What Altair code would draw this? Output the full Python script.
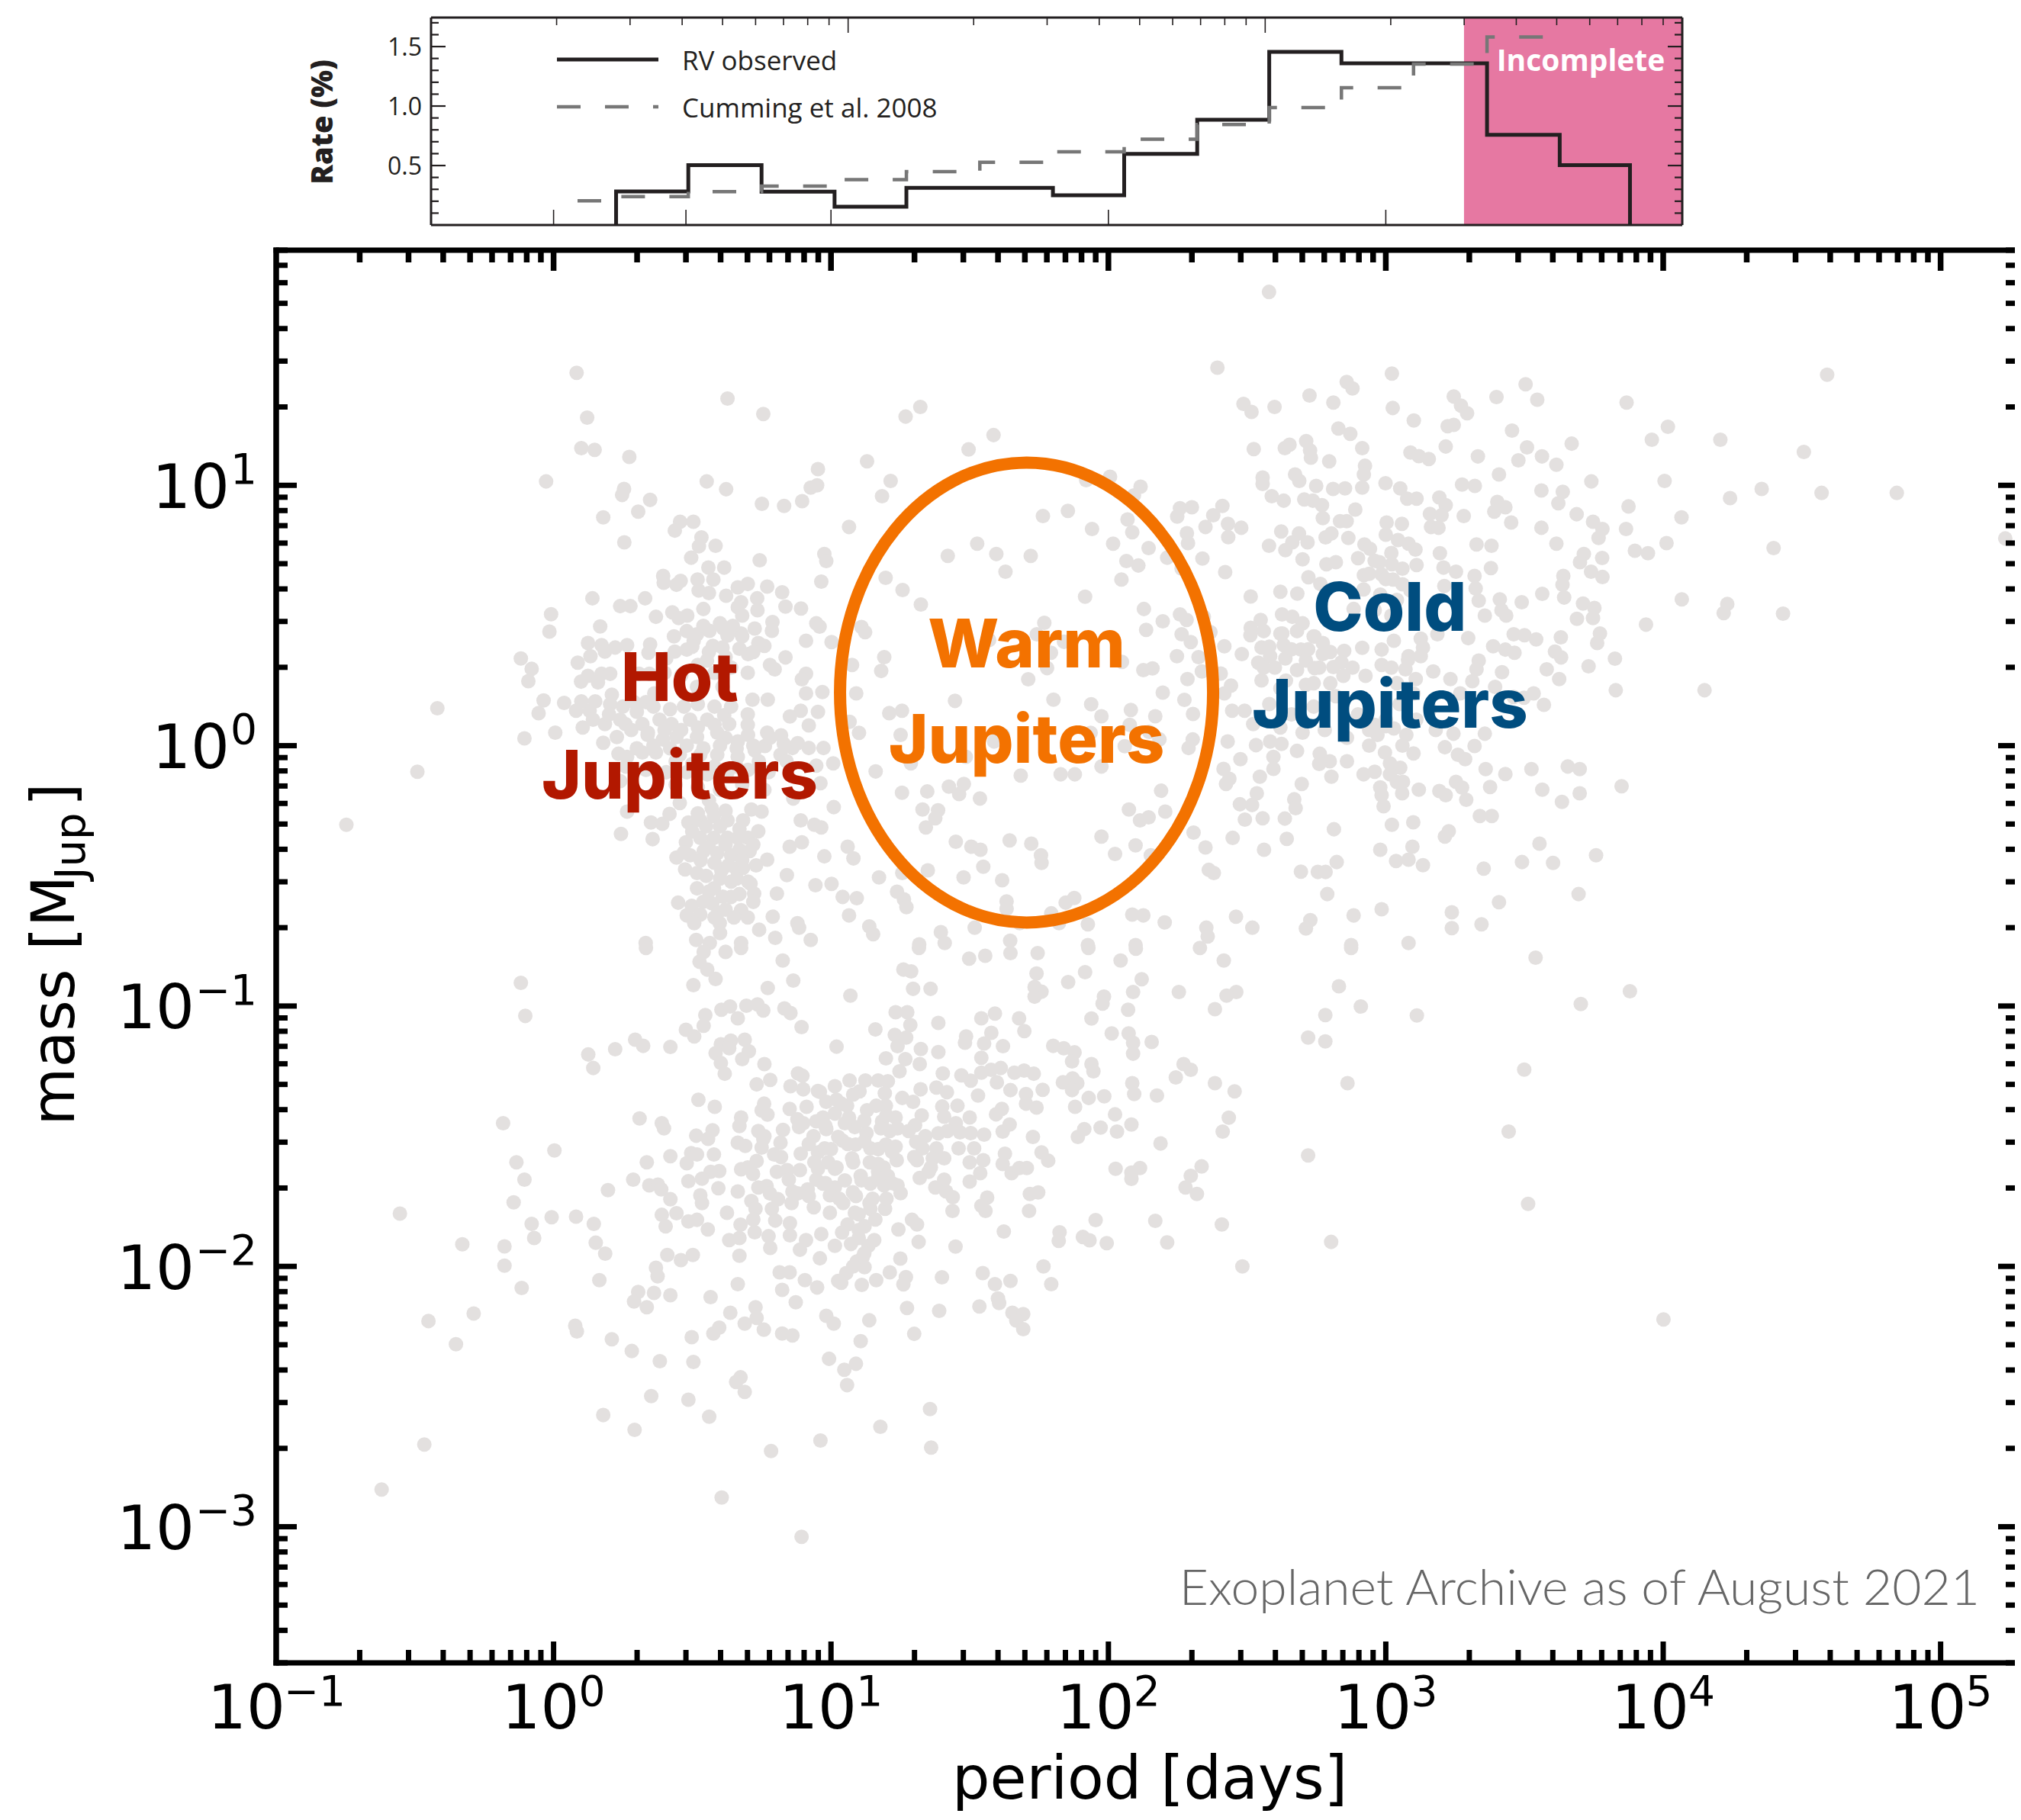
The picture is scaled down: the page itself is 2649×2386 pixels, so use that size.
import altair as alt
import pandas as pd

# ---- values: (log10 period [days], log10 mass [MJup]) ----
hot_region = [(.083,1.432),(.121,1.260),(.100,1.143),(.148,1.136),(.273,1.109),(.627,1.333),(.756,1.274),(-.027,1.015),(.552,1.015),(.622,.985),(.254,.986),(.247,.963),(.348,.944),(.305,.899),(.179,.877),(.255,.781),(.751,.929),(.831,.921),(.896,.939),(.927,.991),(.953,1.062),(.950,1.0),(.456,.860),(.504,.860),(.437,.826),(.533,.800),(.524,.766),(.584,.768),(.496,.722),(.743,.712),(.976,.736),(.983,.709),(.965,.630),(.558,.684),(.615,.684),(.395,.652),(.397,.626),(.443,.618),(.458,.633),(.519,.638),(.576,.638),(.523,.596),(.560,.586),(.622,.576),(.664,.608),(.700,.621),(.770,.611),(.824,.589),(.734,.566),(.676,.551),(.664,.532),(.735,.520),(.836,.534),(.892,.527),(.140,.566),(.240,.536),(.277,.536),(.330,.566),(-.009,.505),(-.015,.438),(.168,.458),(.369,.495),(.428,.512),(.451,.490),(.482,.500),(.540,.525),(.947,.470),(.959,.457),(.789,.475),(.725,.450),(.787,.441),(.562,.441),(.612,.450),(.646,.460),(.627,.423),(.676,.431),(.517,.428),(.434,.420),(.910,.403),(1.002,.398),(.124,.394),(.173,.386),(.222,.377),(.265,.386),(.348,.389),(.342,.357),(.133,.344),(.185,.361),(.437,.361),(.480,.369),(.505,.403),(.574,.383),(.609,.377),(.670,.372),(.701,.352),(.760,.383),(.738,.394),(.836,.339),(.797,.293),(-.118,.335),(-.079,.295),(-.091,.248),(.087,.319),(.099,.246),(.124,.268),(.173,.276),(.204,.276),(.160,.243),(.553,.327),(.406,.335),(.910,.276),(.895,.255),(.910,.201),(.969,.206),(.308,.276),(.345,.276),(.517,.226),(.609,.226),(.363,.201),(.210,.196),(.290,.167),(.333,.167),(.204,.159),(.717,.177),(.772,.177),(-.036,.174),(.038,.164),(-.054,.125),(.081,.134),(.130,.134),(.891,.134),(.852,.112),(.953,.130),(.920,.078),(-.419,.144),(.105,.070),(.142,.100),(.185,.083),(.240,.100),(.259,.083),(.320,.083),(.382,.100),(.425,.083),(.492,.100),(.554,.100),(.615,.117),(.633,.083),(.006,.050),(-.105,.028),(.179,.011),(.228,.033),(.339,.041),(.394,.024),(.443,.033),(.517,.033),(.590,.050),(.664,.016),(.701,.041),(.762,-.001),(.725,-.018),(.830,.007),(.861,-.009),(.920,-.009),(.973,-.009),(.234,-.031),(.265,-.043),(.320,-.026),(.369,-.026),(.455,-.035),(.529,-.035),(.590,-.035),(.664,-.043),(.818,-.035),(.240,-.136),(.947,-.077),(1.008,-.068),(.962,-.144),(.333,-.093),(.406,-.102),(.480,-.102),(.554,-.110),(.627,-.102),(.701,-.093),(.775,-.102),(.265,-.253),(.351,-.295),(.392,-.300),(.418,-.262),(.455,-.220),(.243,-.339),(.357,-.359),(.486,-.295),(.529,-.287),(.578,-.270),(.627,-.287),(.683,-.287),(.713,-.245),(.750,-.253),(.738,-.329),(.701,-.354),(.707,-.405),(.529,-.354),(.578,-.354),(.627,-.354),(.664,-.354),(.477,-.371),(.443,-.430),(.492,-.421),(.541,-.405),(.590,-.413),(.640,-.421),(.474,-.475),(.517,-.489),(.605,-.480),(.658,-.472),(.683,-.469),(.701,-.522),(.517,-.548),(.578,-.548),(.640,-.522),(.640,-.581),(.723,-.568),(.805,-.568),(.676,-.632),(.449,-.603),(.498,-.615),(.480,-.652),(.529,-.649),(.507,-.682),(.572,-.606),(.593,-.640),(.599,-.682),(.790,-.657),(.741,-.707),(.879,-.682),(.885,-.699),(.799,-.738),(.927,-.746),(.332,-.758),(.514,-.746),(.563,-.758),(.676,-.758),(.770,-.438),(.841,-.497),(.851,-.388),(.895,-.371),(.891,-.287),(.940,-.304),(.965,-.314),(.976,-.425),(.944,-.536),(1.002,-.531),(1.010,-.236),(.864,-.203),(-.747,-.304),(-.491,-.100)]

warm_region = [(1.322,1.301),(1.269,1.264),(1.586,1.193),(1.496,1.138),(1.130,1.092),(1.215,1.017),(1.184,.958),(1.065,.840),(2.006,1.033),(1.920,1.020),(2.116,.995),(2.092,.961),(1.764,.882),(1.854,.902),(1.941,.832),(2.069,.869),(2.086,.820),(1.527,.776),(1.421,.729),(1.596,.736),(1.720,.729),(1.629,.668),(2.017,.776),(2.145,.759),(2.065,.709),(2.108,.692),(2.047,.638),(1.197,.645),(1.258,.598),(1.324,.542),(2.212,.722),(2.264,.680),(2.339,.719),(2.421,.667),(1.916,.572),(1.769,.472),(2.128,.525),(2.196,.478),(2.258,.504),(2.282,.483),(2.136,.445),(2.264,.428),(2.297,.398),(2.344,.495),(2.368,.436),(1.110,.456),(1.123,.436),(1.742,.428),(1.570,.406),(1.840,.399),(2.418,.382),(1.192,.340),(1.181,.287),(1.076,.310),(1.793,.357),(1.779,.298),(1.711,.255),(2.049,.322),(2.126,.290),(2.159,.297),(2.247,.344),(2.325,.340),(2.337,.285),(2.405,.277),(2.285,.256),(2.442,.231),(2.196,.204),(2.418,.201),(2.274,.176),(1.091,.201),(1.447,.172),(1.802,.177),(1.210,.125),(1.256,.134),(1.067,.092),(1.101,.049),(1.938,.159),(1.975,.113),(2.081,.137),(2.077,.080),(2.169,.113),(2.305,.122),(2.446,.134),(2.491,.134),(2.522,.083),(1.251,.041),(1.619,.041),(1.588,.016),(1.936,.049),(2.147,.053),(2.059,-.002),(2.184,.024),(2.304,.024),(2.289,-.009),(2.430,.016),(2.532,.002),(2.583,.016),(2.624,.007),(1.486,-.043),(1.288,-.068),(1.161,-.099),(2.476,-.052),(2.415,-.089),(2.595,-.043),(2.595,-.089),(2.436,-.127),(2.424,-.147),(2.546,-.119),(1.684,-.115),(1.828,-.110),(1.879,-.110),(1.975,-.080),(2.762,-.031),(2.798,-.060),(2.804,-.119),(2.697,-.147),(1.256,-.181),(1.347,-.176),(1.425,-.157),(1.462,-.186),(1.479,-.147),(1.537,-.203),(2.190,-.173),(2.535,-.183),(2.074,-.245),(2.205,-.253),(2.114,-.287),(2.145,-.275),(1.330,-.245),(1.386,-.248),(1.376,-.279),(1.342,-.314),(2.474,-.225),(2.518,-.228),(2.670,-.206),(2.675,-.240),(2.492,-.284),(2.556,-.279),(2.636,-.280),(2.813,-.321),(2.448,-.354),(2.307,-.334),(2.350,-.391),(2.561,-.400),(2.643,-.358),(1.975,-.349),(1.450,-.369),(1.506,-.388),(1.539,-.400),(1.644,-.364),(1.722,-.376),(1.757,-.421),(1.759,-.450),(2.098,-.383),(2.024,-.416),(2.153,-.421),(1.060,-.388),(1.081,-.433),(1.549,-.465),(1.349,-.479),(1.478,-.506),(1.617,-.517),(1.173,-.506),(1.257,-.489),(2.362,-.477),(2.380,-.489),(2.694,-.484),(2.755,-.485),(2.783,-.485),(2.823,-.447),(2.789,-.570),(1.238,-.561),(1.263,-.590),(1.272,-.620),(1.093,-.586),(1.042,-.581),(1.633,-.598),(1.633,-.627),(1.846,-.603),(1.877,-.585),(1.794,-.644),(2.086,-.649),(2.126,-.652),(2.203,-.679),(2.460,-.657),(2.519,-.699),(2.353,-.699),(2.358,-.733),(2.728,-.670),(2.712,-.702),(2.884,-.652),(1.926,-.686),(1.680,-.682),(1.822,-.682),(1.065,-.652),(1.138,-.694),(1.152,-.724),(1.518,-.699),(1.396,-.716),(1.318,-.763),(1.410,-.758),(1.646,-.749),(1.926,-.766),(2.098,-.766),(2.875,-.766),(2.579,1.743),(2.393,1.452),(2.487,1.313),(2.516,1.282),(2.599,1.301),(2.725,1.345),(2.859,1.397),(2.880,1.372),(2.811,1.318),(2.524,1.139),(2.829,1.218),(2.872,1.198),(2.636,1.143),(2.653,1.156),(2.713,1.170),(2.727,1.134),(2.730,1.106),(2.796,1.092),(2.915,1.143),(2.925,1.075),(2.921,1.042),(2.556,1.030),(2.556,1.005),(2.673,1.042),(2.688,1.017),(2.749,.998),(2.589,.958),(2.632,.941),(2.810,.986),(2.853,.988),(2.915,.991),(2.706,.946),(2.737,.941),(2.770,.924),(2.773,.874),(2.890,.907),(2.411,.921),(2.378,.885),(2.350,.840),(2.258,.912),(2.301,.916),(2.248,.880),(2.431,.852),(2.479,.837),(2.432,.801),(2.283,.816),(2.287,.778),(2.623,.823),(2.687,.815),(2.718,.781),(2.663,.781),(2.579,.768),(2.638,.751),(2.700,.716),(2.783,.800),(2.804,.815),(2.835,.862),(2.859,.862),(2.865,.798),(2.923,.773),(2.786,.697),(2.820,.705),(2.721,.647),(2.764,.621),(2.921,.655),(2.943,.756),(2.513,.573),(2.620,.591),(2.681,.584),(2.626,.504),(2.663,.495),(2.700,.470),(2.884,.525),(2.549,.483),(2.513,.453),(2.512,.424),(2.627,.431),(2.743,.419),(2.773,.394),(2.915,.376),(2.850,.364),(2.773,.352),(2.481,.352),(2.552,.377),(2.632,.386),(2.694,.369),(2.540,.319),(2.583,.344),(2.638,.335),(2.712,.327),(2.743,.298),(2.811,.302),(2.847,.268),(2.927,.268),(2.552,.251),(2.712,.234),(2.62,.22),(2.58,.16),(2.66,.12),(2.74,.15),(2.82,.19),(2.90,.12),(2.96,.08),(2.62,.07),(2.70,.05),(2.78,.06),(2.86,.03),(2.94,.00),(2.68,-.02),(2.76,-.07),(2.86,-.06),(2.92,-.11),(2.98,-.16)]

cold_region = [(3.022,1.429),(3.025,1.297),(3.245,1.341),(3.271,1.306),(3.293,1.277),(3.399,1.339),(3.504,1.388),(3.546,1.329),(3.868,1.318),(4.591,1.425),(3.101,1.249),(3.223,1.227),(3.245,1.232),(4.017,1.225),(3.959,1.175),(4.206,1.175),(4.507,1.128),(3.455,1.210),(3.216,1.149),(3.089,1.126),(3.119,1.112),(3.155,1.101),(3.332,1.111),(3.509,1.146),(3.478,1.096),(3.563,1.111),(3.670,1.160),(3.615,1.079),(3.408,1.042),(2.999,1.008),(3.052,.988),(3.077,.949),(3.111,.949),(3.275,1.003),(3.321,.998),(3.741,1.015),(4.005,1.017),(4.355,.986),(4.241,.951),(4.571,.971),(4.842,.971),(3.561,.980),(3.638,.975),(3.622,.931),(3.193,.953),(3.216,.924),(3.159,.890),(3.201,.885),(3.281,.882),(3.402,.936),(3.431,.916),(3.391,.899),(3.163,.840),(3.190,.837),(3.452,.857),(3.561,.837),(3.688,.889),(3.875,.919),(4.066,.877),(3.747,.860),(3.781,.832),(3.866,.832),(3.767,.798),(3.003,.857),(3.058,.852),(3.000,.810),(3.044,.790),(3.082,.776),(3.107,.753),(3.195,.739),(3.327,.773),(3.381,.768),(3.615,.776),(4.012,.778),(4.398,.759),(3.898,.749),(3.945,.739),(5.233,.796),(3.714,.736),(3.700,.705),(3.780,.721),(3.740,.668),(3.781,.648),(3.640,.652),(3.637,.618),(3.643,.569),(3.564,.583),(3.490,.551),(3.379,.682),(3.320,.652),(3.324,.604),(3.335,.557),(3.357,.500),(3.111,.694),(3.208,.684),(3.253,.668),(2.977,.705),(3.022,.697),(2.985,.658),(3.026,.638),(3.211,.613),(3.089,.596),(3.411,.562),(3.434,.500),(3.417,.520),(4.067,.562),(4.231,.544),(4.218,.509),(4.432,.507),(3.711,.546),(3.752,.529),(3.689,.487),(3.747,.490),(3.938,.465),(3.772,.431),(3.762,.394),(3.826,.334),(3.731,.305),(3.829,.213),(4.149,.213),(3.631,.416),(3.461,.428),(3.500,.424),(3.542,.408),(3.297,.413),(3.387,.382),(3.431,.369),(3.464,.357),(3.610,.361),(3.632,.339),(3.580,.293),(3.335,.327),(3.327,.293),(3.419,.282),(3.233,.256),(3.312,.248),(3.625,.256),(3.171,.285),(3.108,.256),(3.071,.293),(3.126,.411),(3.134,.377),(3.082,.344),(3.126,.344),(3.186,.428),(3.029,.403),(2.985,.369),(2.985,.310),(3.394,.226),(3.268,.201),(3.461,.187),(3.498,.184),(3.533,.201),(3.570,.157),(3.357,.046),(3.320,-.001),(3.244,.046),(3.213,-.006),(3.260,-.035),(3.286,-.052),(3.074,.041),(3.000,.075),(3.029,.066),(2.970,.041),(2.997,-.026),(3.015,-.068),(3.052,-.085),(3.015,-.110),(3.360,-.090),(3.431,-.109),(3.525,-.090),(3.656,-.080),(3.699,-.090),(3.850,-.156),(3.564,-.169),(3.699,-.183),(3.635,-.216),(3.253,-.139),(3.275,-.161),(3.290,-.208),(3.376,-.159),(3.193,-.174),(3.216,-.190),(3.119,-.169),(3.062,-.139),(3.059,-.183),(2.985,-.190),(2.992,-.233),(3.339,-.270),(3.382,-.270),(3.022,-.304),(3.099,-.294),(3.227,-.329),(3.213,-.349),(2.980,-.400),(3.096,-.388),(3.037,-.443),(3.082,-.438),(3.134,-.459),(3.353,-.472),(3.491,-.447),(3.554,-.376),(3.603,-.450),(3.758,-.421),(3.695,-.570),(3.408,-.601),(3.238,-.640),(3.238,-.701),(3.345,-.686),(2.985,-.628),(3.082,-.758),(3.703,-.992),(3.880,-.943),(3.499,-1.244),(3.443,-1.482),(3.513,-1.760),(4.001,-2.204),(3.54,-.814),(3.10,.20),(3.16,.14),(3.05,.16),(3.11,.10),(3.18,.06),(3.04,.24)]

small_mid = [(1.317,-.777),(1.261,-.860),(1.289,-.867),(1.070,-.960),(1.296,-.934),(1.359,-.934),(1.498,-.818),(1.556,-.807),(1.647,-.797),(1.745,-.797),(1.928,-.777),(2.099,-.780),(2.330,-.777),(2.416,-.825),(2.044,-.825),(1.916,-.870),(1.741,-.875),(1.855,-.908),(2.120,-.897),(1.734,-.927),(1.759,-.945),(1.734,-.964),(2.089,-.946),(2.254,-.946),(2.461,-.946),(2.426,-.960),(2.384,-1.012),(1.984,-.964),(1.979,-.991),(2.071,-1.014),(1.939,-1.048),(2.875,-.777),(2.831,-.924),(2.782,-1.035),(2.910,-1.002),(3.112,-1.036),(2.720,-1.121),(2.782,-1.136),(2.862,-1.296),(2.720,-1.574),(2.803,-1.906),(2.483,-2.000),(2.409,-1.839),(2.169,-1.825),(2.212,-1.908),(1.954,-1.822),(1.908,-1.887),(1.932,-1.900),(1.994,-1.911),(1.824,-1.869),(1.821,-1.902),(1.766,-2.000),(1.794,-2.068),(1.714,-1.787),(1.717,-1.722),(1.747,-1.716),(1.623,-1.866),(1.647,-2.056),(1.547,-2.026),(1.591,-2.068),(1.602,-2.123),(1.606,-2.141),(1.535,-2.154),(1.654,-2.178),(1.693,-2.183),(1.668,-2.208),(1.693,-2.241),(1.449,-1.924),(1.438,-1.787),(1.557,-1.787),(1.563,-1.736),(1.542,-1.767),(1.316,-1.906),(1.243,-1.858),(1.310,-1.839),(1.292,-1.821),(1.250,-1.970),(1.212,-2.023),(1.270,-2.041),(1.261,-2.069),(1.163,-2.053),(1.111,-2.071),(1.400,-2.042),(1.274,-2.160),(1.390,-2.171),(1.138,-2.207),(1.300,-2.259),(1.107,-2.287),(1.090,-2.374),(1.048,-2.397),(1.058,-2.456),(1.357,-2.548),(1.178,-2.616),(1.361,-2.696),(1.233,-1.024),(1.275,-1.024),(1.286,-1.073),(1.387,-1.065),(1.160,-1.090),(1.230,-1.111),(1.271,-1.121),(1.240,-1.154),(1.324,-1.165),(1.387,-1.177),(1.198,-1.201),(1.268,-1.204),(1.320,-1.223),(1.247,-1.251),(1.067,-1.286),(1.124,-1.286),(1.170,-1.286),(1.205,-1.289),(1.103,-1.328),(1.194,-1.335),(1.257,-1.353),(1.296,-1.368),(1.323,-1.320),(1.403,-1.259),(1.380,-1.313),(1.418,-1.331),(1.470,-1.266),(1.504,-1.287),(1.542,-1.199),(1.552,-1.144),(1.542,-1.047),(1.591,-1.029),(1.578,-1.103),(1.620,-1.154),(1.678,-1.047),(1.697,-1.096),(1.487,-1.117),(1.483,-1.141),(1.801,-1.153),(1.839,-1.162),(1.878,-1.178),(1.869,-1.213),(1.939,-1.223),(1.946,-1.251),(2.012,-1.105),(2.073,-1.105),(2.089,-1.141),(2.089,-1.183),(2.156,-1.138),(2.271,-1.223),(2.297,-1.245),(2.243,-1.274),(2.384,-1.296),(2.455,-1.328),(2.086,-1.296),(2.093,-1.338),(2.175,-1.344),(2.434,-1.429),(2.412,-1.482),(2.188,-1.528),(2.336,-1.616),(2.297,-1.652),(2.278,-1.697),(2.319,-1.722),(2.114,-1.622),(2.083,-1.640),(2.083,-1.664),(2.026,-1.625),(2.083,-1.455),(2.024,-1.416),(1.972,-1.467),(2.031,-1.482),(1.913,-1.473),(1.890,-1.503),(1.985,-1.347),(1.929,-1.353),(1.880,-1.387),(1.763,-1.322),(1.871,-1.278),(1.836,-1.293),(1.888,-1.296),(1.869,-1.323),(1.731,-1.260),(1.696,-1.248),(1.661,-1.256),(1.612,-1.238),(1.577,-1.245),(1.542,-1.256),(1.598,-1.293),(1.647,-1.323),(1.703,-1.338),(1.703,-1.375),(1.741,-1.390),(1.616,-1.395),(1.595,-1.416),(1.644,-1.455),(1.619,-1.482),(1.530,-1.344),(1.456,-1.383),(1.401,-1.386),(1.408,-1.425),(1.450,-1.450),(1.500,-1.428),(1.465,-1.485),(1.504,-1.488),(1.552,-1.494),(1.387,-1.489),(1.327,-1.420),(1.303,-1.458),(1.307,-1.522),(1.330,-1.547),(1.380,-1.547),(1.460,-1.547),(1.516,-1.547),(1.728,-1.503),(1.759,-1.562),(1.783,-1.594),(1.627,-1.567),(1.619,-1.607),(1.651,-1.642),(1.679,-1.622),(1.706,-1.622),(1.549,-1.592),(1.500,-1.600),(1.538,-1.642),(1.500,-1.674),(1.310,-1.592),(1.352,-1.637),(1.408,-1.585),(1.408,-1.667),(1.376,-1.697),(1.415,-1.712),(1.439,-1.734),(1.367,-1.585),(1.233,-1.428),(1.198,-1.383),(1.163,-1.383),(1.212,-1.480),(1.184,-1.443),(1.128,-1.488),(1.086,-1.465),(1.065,-1.428),(1.058,-1.383),(1.037,-1.375),(1.041,-1.517),(1.089,-1.532),(1.142,-1.547),(1.198,-1.532),(1.233,-1.540),(1.237,-1.592),(1.170,-1.607),(1.076,-1.585),(1.107,-1.652),(1.170,-1.637),(1.205,-1.652),(1.240,-1.689),(1.251,-1.719),(1.191,-1.689),(1.142,-1.682),(1.079,-1.715),(1.139,-1.757),(1.195,-1.779),(1.142,-1.779),(1.086,-1.794),(1.060,-1.839),(1.121,-1.846),(1.156,-1.899),(1.135,-1.921),(1.072,-1.914),(1.100,-1.891),(1.114,-1.966),(1.093,-1.981),(1.121,-2.003),(1.055,-2.026),(1.037,-2.063),(1.044,-1.757)]

small_short = [(-.118,-.911),(-.102,-1.038),(.504,-.920),(.584,-.896),(.554,-.860),(.526,-.830),(.541,-.792),(.333,-.777),(.620,-.792),(.676,-.777),(.826,-.825),(.864,-.902),(.772,-.931),(.547,-1.035),(.541,-1.076),(.605,-1.014),(.636,-1.002),(.664,-1.047),(.695,-.999),(.735,-.994),(.756,-1.017),(.832,-1.009),(.854,-1.027),(.894,-1.081),(.477,-1.091),(.507,-1.117),(.125,-1.186),(.143,-1.238),(.222,-1.166),(.294,-1.129),(.323,-1.153),(.421,-1.157),(.603,-1.147),(.639,-1.133),(.689,-1.129),(.633,-1.162),(.584,-1.181),(.603,-1.219),(.704,-1.174),(.680,-1.204),(.617,-1.260),(.760,-1.223),(1.020,-1.156),(.732,-1.301),(.781,-1.284),(.854,-1.308),(.881,-1.259),(.897,-1.268),(.953,-1.326),(1.014,-1.308),(.522,-1.360),(.581,-1.387),(.759,-1.375),(.750,-1.401),(.771,-1.417),(.851,-1.395),(.912,-1.387),(.983,-1.368),(.971,-1.428),(.879,-1.435),(.947,-1.443),(1.014,-1.413),(-.182,-1.450),(.310,-1.432),(.390,-1.450),(.398,-1.470),(.676,-1.428),(.670,-1.461),(.514,-1.498),(.573,-1.477),(.557,-1.510),(.738,-1.480),(.827,-1.476),(.818,-1.525),(.885,-1.465),(.937,-1.500),(.983,-1.473),(1.026,-1.503),(.003,-1.555),(.664,-1.525),(.691,-1.537),(.756,-1.510),(.496,-1.565),(.517,-1.570),(.578,-1.570),(.480,-1.604),(.750,-1.544),(.795,-1.570),(.891,-1.567),(.953,-1.562),(.977,-1.547),(.336,-1.600),(.421,-1.577),(-.134,-1.600),(-.105,-1.667),(-.144,-1.754),(.597,-1.634),(.566,-1.637),(.732,-1.595),(.676,-1.627),(.719,-1.645),(.805,-1.637),(.842,-1.630),(.888,-1.630),(.953,-1.625),(1.014,-1.625),(.287,-1.667),(.486,-1.673),(.535,-1.663),(.594,-1.700),(.345,-1.689),(.376,-1.686),(.388,-1.704),(.196,-1.707),(.738,-1.697),(.768,-1.692),(.664,-1.712),(.848,-1.667),(.861,-1.712),(.916,-1.704),(.971,-1.682),(1.014,-1.697),(.529,-1.727),(.535,-1.757),(.421,-1.742),(.713,-1.749),(.728,-1.779),(.809,-1.742),(.858,-1.757),(.938,-1.773),(.787,-1.779),(.996,-1.794),(-.554,-1.797),(-.079,-1.837),(-.070,-1.891),(-.007,-1.811),(.081,-1.809),(.145,-1.837),(.152,-1.909),(.186,-1.951),(.390,-1.802),(.443,-1.796),(.404,-1.846),(.486,-1.827),(.517,-1.821),(.556,-1.858),(.625,-1.794),(.674,-1.840),(.799,-1.824),(.852,-1.834),(.633,-1.899),(.670,-1.891),(.725,-1.869),(.775,-1.884),(.852,-1.881),(.910,-1.899),(.965,-1.876),(1.014,-1.921),(.781,-1.929),(.670,-1.959),(.888,-1.936),(.960,-1.969),(-.329,-1.915),(-.177,-1.923),(-.177,-1.997),(-.115,-2.083),(.165,-2.053),(.410,-1.956),(.459,-1.976),(.502,-1.956),(.369,-2.005),(.375,-2.038),(.305,-2.098),(.362,-2.102),(.290,-2.135),(.336,-2.157),(.421,-2.111),(.664,-2.068),(.566,-2.118),(.637,-2.178),(.815,-2.023),(.851,-2.023),(.906,-2.053),(.950,-2.081),(.824,-2.090),(.873,-2.138),(1.026,-2.056),(.728,-2.157),(.732,-2.198),(.689,-2.220),(.758,-2.243),(.824,-2.258),(.861,-2.265),(.983,-2.190),(1.010,-2.220),(.597,-2.235),(.576,-2.258),(.498,-2.272),(-.288,-2.181),(-.451,-2.210),(-.352,-2.299),(.078,-2.228),(.084,-2.250),(.210,-2.280),(.282,-2.325),(.383,-2.364),(.504,-2.367),(.993,-2.355),(.674,-2.426),(.658,-2.444),(.689,-2.482),(.352,-2.498),(.486,-2.512),(.179,-2.571),(.292,-2.628),(.561,-2.577),(-.466,-2.684),(-.620,-2.857),(.606,-2.888),(.784,-2.709),(.962,-2.669),(.894,-3.039),(.947,-1.667),(.996,-1.727),(.92,-1.73),(.99,-1.60)]

# points inside the solid blobs, where single dots can only be estimated
blob_hot = [(.52,-.26),(.57,-.24),(.62,-.25),(.67,-.32),(.55,-.31),(.60,-.31),(.50,-.33),(.72,-.38),(.56,-.39),(.62,-.38),(.67,-.40),(.47,-.41),(.53,-.44),(.58,-.45),(.63,-.46),(.68,-.44),(.73,-.46),(.55,-.50),(.60,-.51),(.66,-.51),(.71,-.53),(.56,-.56),(.61,-.58),(.67,-.57),(.72,-.60),(.54,-.60),(.62,-.63),(.65,-.66),(.58,-.66),(.70,-.66),(.60,-.72),(.10,.17),(.15,.17),(.20,.12),(.25,.15),(.30,.13),(.36,.15),(.42,.14),(.47,.15),(.52,.16),(.58,.15),(.64,.15),(.70,.12),(.28,.06),(.34,.05),(.40,.06),(.46,.06),(.52,.07),(.58,.08),(.62,.03),(.70,.08),(.77,.05),(.82,.04),(.30,-.01),(.36,-.00),(.42,-.01),(.48,-.00),(.54,-.01),(.60,.00),(.66,-.01),(.72,.00),(.78,.03),(.88,.01),(.26,-.08),(.44,-.06),(.50,-.07),(.58,-.08),(.66,-.08),(.74,-.06),(.84,-.06),(.44,-.15),(.52,-.16),(.60,-.17),(.68,-.15),(.76,-.17),(.56,-.21),(.48,.44),(.54,.46),(.60,.47),(.68,.50),(.50,.38),(.56,.36),(.62,.34),(.68,.42),(.72,.36),(.52,.31),(.58,.28),(.64,.30),(.46,.27),(.40,.28),(.70,.28),(.78,.31)]
blob_small = [(.90,-1.32),(.96,-1.33),(1.02,-1.36),(1.08,-1.34),(1.13,-1.40),(1.20,-1.42),(.90,-1.45),(.98,-1.46),(1.05,-1.45),(1.12,-1.44),(1.18,-1.47),(1.24,-1.47),(.92,-1.53),(1.00,-1.55),(1.06,-1.53),(1.12,-1.52),(1.17,-1.55),(1.22,-1.56),(.94,-1.60),(1.02,-1.62),(1.08,-1.60),(1.14,-1.60),(1.19,-1.62),(.98,-1.68),(1.05,-1.67),(1.11,-1.67),(1.17,-1.66),(1.22,-1.68),(1.03,-1.74),(1.09,-1.73),(1.15,-1.74),(1.20,-1.74),(1.10,-1.80),(1.16,-1.82),(1.04,-1.87),(1.10,-1.86),(1.12,-1.95),(1.08,-2.00),(1.28,-1.48),(1.34,-1.50),(1.30,-1.58),(1.36,-1.62),(1.42,-1.48),(1.32,-1.66),(.76,-1.50),(.82,-1.58),(.70,-1.62),(.78,-1.72),(.88,-1.72),(.72,-1.82)]
blob_cold = [(2.56,.44),(2.62,.43),(2.68,.44),(2.74,.42),(2.58,.38),(2.66,.37),(2.72,.37),(2.80,.36),(2.60,.30),(2.68,.29),(2.76,.30),(2.84,.32),(2.88,.30),(2.56,.30),(2.64,.25),(2.74,.24),(2.80,.24),(2.90,.72),(2.96,.71),(3.02,.74),(2.94,.66),(3.00,.64),(3.06,.68),(2.92,.60),(2.98,.58),(3.04,.56),(3.06,.62),(2.96,.52),(3.02,.50),(3.00,.10),(3.06,.00),(2.94,.06),(3.10,-.03),(3.04,-.14),(2.96,-.10),(3.02,.30),(3.08,.33)]

# Histogram panel (rate in %)
rv_edges = [1.68, 1.68, 3.06, 5.62, 10.3, 18.7, 63.1, 114, 209, 380, 692, 2317, 4236, 7590, 7590]
rv_rates = [0, .282, .504, .28, .154, .312, .25, .598, .885, 1.455, 1.36, .758, .504, .504, 0]
cumming_edges = [1.22, 1.68, 3.06, 5.62, 10.3, 18.7, 34.4, 63.1, 114, 209, 380, 692, 1259, 2317, 4236]
cumming_rates = [.203, .239, .28, .327, .382, .449, .528, .615, .722, .844, .987, 1.154, 1.353, 1.58, 1.58]

region_labels = [("Hot", 2.85, 1.48, "#b21800"), ("Jupiters", 2.85, .624, "#b21800"),
                 ("Warm", 50.7, 2.0, "#f37200"), ("Jupiters", 50.7, .857, "#f37200"),
                 ("Cold", 1035, 2.77, "#004d7f"), ("Jupiters", 1035, 1.17, "#004d7f")]
ellipse_center = [(50.7, 1.6)]
incomplete_range = [1914, 11722]
x_exponents = [-1, 0, 1, 2, 3, 4, 5]
y_exponents = [1, 0, -1, -2, -3]
rate_ticks_major = [.5, 1.0, 1.5]
rate_ticks_minor = [.1, .2, .3, .4, .6, .7, .8, .9, 1.1, 1.2, 1.3, 1.4, 1.6, 1.7]
panel_bottom_ticks = [1, 3, 10, 100, 1000]

# ---- layout, in plot coordinates ----
W, H = 2287, 2157
VIEW_W = 2279          # the page keeps an 8px margin on the right as well
MAIN_TOP = 305
P_L, P_R, P_B = 203, 1843, 272
INK = "#000000"
PANEL_INK = "#231f20"

main_x = alt.Scale(type="log", domain=[.1, 194900], range=[0, W], nice=False)
main_y = alt.Scale(type="log", domain=[3e-4, 80], range=[H, MAIN_TOP], nice=False)
rate_y = alt.Scale(type="linear", domain=[0, 1.744], range=[P_B, 0], nice=False, zero=False)
top_x = alt.Scale(type="log", domain=[1, 1000], range=[P_L, P_R], nice=False)


def X(f="x", s=main_x):
    return alt.X(f"{f}:Q", scale=s, axis=None)


def Y(f="y", s=main_y):
    return alt.Y(f"{f}:Q", scale=s, axis=None)


def df(**kw):
    return pd.DataFrame(kw)


def vrules(vals, y0, y1, width, color=INK, s=main_x):
    return alt.Chart(df(x=vals)).mark_rule(color=color, strokeWidth=width).encode(
        x=X(s=s), y=alt.value(y0), y2=alt.value(y1))


def hrules(vals, x0, x1, width, color=INK, s=main_y):
    return alt.Chart(df(y=vals)).mark_rule(color=color, strokeWidth=width).encode(
        y=Y(s=s), x=alt.value(x0), x2=alt.value(x1))


def spine(x0, x1, y0, y1, width, color=INK):
    return alt.Chart(df(a=[0])).mark_rule(color=color, strokeWidth=width).encode(
        x=alt.value(x0), x2=alt.value(x1), y=alt.value(y0), y2=alt.value(y1))


def label(text, x, y, size, color=INK, font="DejaVu Sans", weight="normal", align="left", angle=0):
    return alt.Chart(df(t=[text])).mark_text(
        fontSize=size, color=color, font=font, fontWeight=weight, align=align,
        baseline="alphabetic", angle=angle).encode(text="t:N", x=alt.value(x), y=alt.value(y))


layers = []

# --- scatter
pts = hot_region + warm_region + cold_region + small_mid + small_short + blob_hot + blob_small + blob_cold
scatter = df(x=[10 ** p[0] for p in pts], y=[10 ** p[1] for p in pts])
layers.append(alt.Chart(scatter).mark_circle(size=363, opacity=1, color="#e3e0df").encode(x=X(), y=Y()))

# --- ellipse
layers.append(alt.Chart(df(x=[ellipse_center[0][0]], y=[ellipse_center[0][1]])).mark_point(
    shape="M -1 0 A 1 1.2331 0 1 1 1 0 A 1 1.2331 0 1 1 -1 0 Z",
    size=239121, filled=False, strokeWidth=16, color="#f37200", opacity=1).encode(x=X(), y=Y()))

# --- region names
for name, px, my, col in region_labels:
    layers.append(alt.Chart(df(x=[px], y=[my], t=[name])).mark_text(
        font="Inter", fontWeight=800, fontSize=88, color=col, align="center", baseline="alphabetic"
    ).encode(x=X(), y=Y(), text="t:N"))

# --- main frame
layers += [spine(-3.5, W, MAIN_TOP, MAIN_TOP, 7), spine(-3.5, W, H, H, 7), spine(0, 0, MAIN_TOP - 3.5, H + 3.5, 7.5)]
x_major = [10.0 ** e for e in x_exponents]
x_minor = [k * 10.0 ** e for e in range(-1, 5) for k in range(2, 10)]
y_major = [10.0 ** e for e in y_exponents]
y_minor = [v for v in (k * 10.0 ** e for e in range(-4, 2) for k in range(2, 10)) if 3e-4 <= v <= 80]
layers += [
    vrules(x_major[1:], H, H - 28, 7), vrules(x_minor, H, H - 17, 7),
    vrules(x_major[1:], MAIN_TOP, MAIN_TOP + 27, 7.5), vrules(x_minor, MAIN_TOP, MAIN_TOP + 16, 7.5),
    hrules(y_major, 0, 27, 7), hrules(y_minor, 0, 15, 7),
    hrules(y_major, VIEW_W - 22, VIEW_W, 7), hrules(y_minor, VIEW_W - 12, VIEW_W, 7),
]

# --- tick labels: mantissa and exponent as separate texts
for exps, dx10, dxs in ([e for e in x_exponents if e < 0], -90, 10), ([e for e in x_exponents if e >= 0], -68, 33):
    d = df(x=[10.0 ** e for e in exps], m=["10"] * len(exps), s=[str(e).replace("-", "\u2212") for e in exps])
    layers.append(alt.Chart(d).mark_text(font="DejaVu Sans", fontSize=80, color=INK, align="left",
                                         baseline="alphabetic", dx=dx10).encode(x=X(), y=alt.value(2243), text="m:N"))
    layers.append(alt.Chart(d).mark_text(font="DejaVu Sans", fontSize=55, color=INK, align="left",
                                         baseline="alphabetic", dx=dxs).encode(x=X(), y=alt.value(2212.5), text="s:N"))
for exps, dx10 in ([e for e in y_exponents if e < 0], -107), ([e for e in y_exponents if e >= 0], -61):
    d = df(y=[10.0 ** e for e in exps], m=["10"] * len(exps), s=[str(e).replace("-", "\u2212") for e in exps])
    layers.append(alt.Chart(d).mark_text(font="DejaVu Sans", fontSize=80, color=INK, align="right",
                                         baseline="alphabetic", dx=dx10, dy=29.4).encode(y=Y(), x=alt.value(0), text="m:N"))
    layers.append(alt.Chart(d).mark_text(font="DejaVu Sans", fontSize=55, color=INK, align="right",
                                         baseline="alphabetic", dx=-25, dy=-2.3).encode(y=Y(), x=alt.value(0), text="s:N"))

# --- axis titles and note
layers += [
    label("period [days]", 1145, 2335, 78, align="center"),
    label("mass [M", 97.3 - 362, 1475.5 - 23, 78, angle=270),
    label("Jup", 110.5 - 362, 1153 - 23, 56, angle=270),
    label("]", 97.3 - 362, 1057 - 23, 78, angle=270),
    label("Exoplanet Archive as of August 2021", 2233, 2081, 66, color="#666666", font="Lato", weight=300, align="right"),
]

# --- histogram panel
layers.append(alt.Chart(df(x=[incomplete_range[0]], x2=[incomplete_range[1]])).mark_rect(color="#e678a2").encode(
    x=X(), x2="x2:Q", y=alt.value(0), y2=alt.value(P_B)))
layers += [
    spine(P_L, P_R, 0, 0, 3, PANEL_INK), spine(P_L, P_R, P_B, P_B, 3, PANEL_INK),
    spine(P_L, P_L, 0, P_B, 3, PANEL_INK), spine(P_R, P_R, 0, P_B, 3, PANEL_INK),
    hrules(rate_ticks_major, P_L, P_L + 19, 2.2, PANEL_INK, rate_y), hrules(rate_ticks_minor, P_L, P_L + 10, 2.2, PANEL_INK, rate_y),
    hrules(rate_ticks_major, P_R - 19, P_R, 2.2, PANEL_INK, rate_y), hrules(rate_ticks_minor, P_R - 10, P_R, 2.2, PANEL_INK, rate_y),
    vrules(panel_bottom_ticks, P_B, P_B - 20, 1.6, PANEL_INK),
    vrules([10, 100], 0, 20, 1.6, PANEL_INK, top_x),
    vrules([k * 10.0 ** e for e in range(0, 3) for k in range(2, 10)], 0, 10, 1.6, PANEL_INK, top_x),
]
layers.append(alt.Chart(df(x=rv_edges, y=rv_rates, i=list(range(len(rv_edges))))).mark_line(
    interpolate="step-after", color=PANEL_INK, strokeWidth=5).encode(x=X(), y=Y(s=rate_y), order="i:Q"))
layers.append(alt.Chart(df(x=cumming_edges, y=cumming_rates)).mark_line(
    interpolate="step-after", color="#777777", strokeWidth=4.5, strokeDash=[31, 32]).encode(x=X(), y=Y(s=rate_y)))
for v, t in zip(rate_ticks_major, ["0.5", "1.0", "1.5"]):
    layers.append(alt.Chart(df(y=[v], t=[t])).mark_text(
        font="Open Sans", fontSize=32, color=PANEL_INK, align="right", baseline="alphabetic", dy=12
    ).encode(y=Y(s=rate_y), x=alt.value(191), text="t:N"))
layers += [
    spine(368, 501, 55, 55, 5, PANEL_INK),
    alt.Chart(df(a=[0])).mark_rule(color="#777777", strokeWidth=4.5, strokeDash=[31, 32]).encode(
        x=alt.value(368), x2=alt.value(501), y=alt.value(117)),
    label("RV observed", 532, 68.7, 35, PANEL_INK, "Open Sans"),
    label("Cumming et al. 2008", 532, 131, 35, PANEL_INK, "Open Sans"),
    label("Incomplete", 1710, 70, 39, "#ffffff", "Open Sans", "bold", "center"),
    label("Rate (%)", 74, 137, 38, PANEL_INK, "Open Sans", 800, "center", 270),
]

chart = alt.layer(*layers).resolve_scale(x="independent", y="independent").properties(
    width=VIEW_W, height=H,
    padding={"left": 354, "top": 15, "right": 0, "bottom": 198},
    autosize=alt.AutoSizeParams(type="none"),
).configure_view(stroke=None)

chart.save("out.html", embed_options={"renderer": "svg", "actions": False})
